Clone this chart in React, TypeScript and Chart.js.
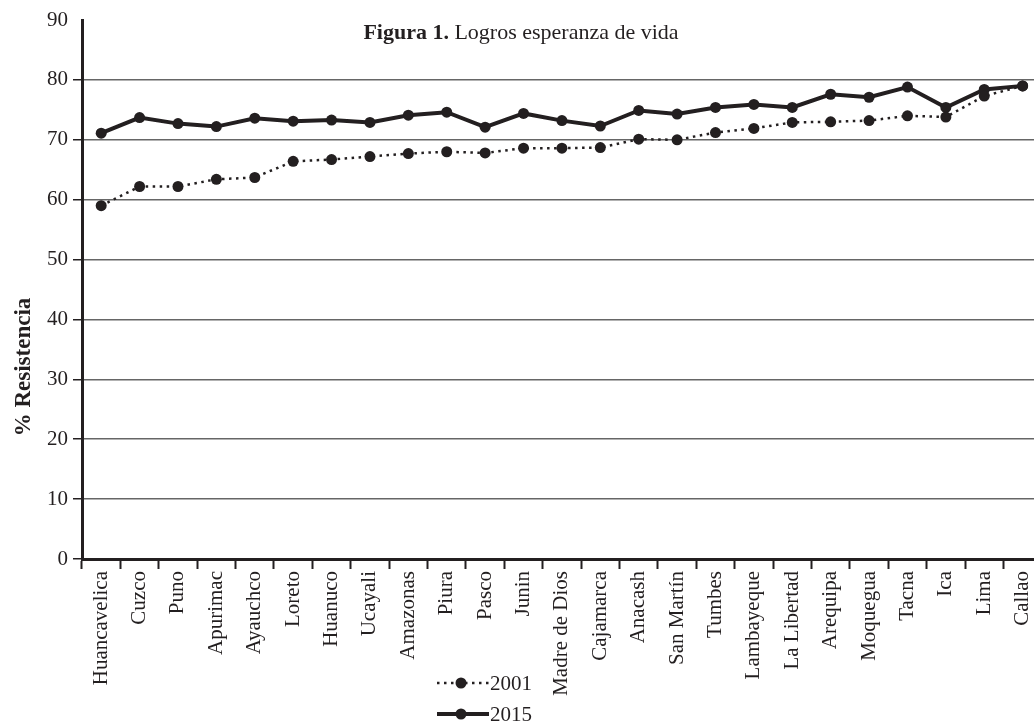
import React, { useEffect, useRef } from "react";
import { Chart, registerables } from "chart.js";

Chart.register(...registerables);

const categories = [
  "Huancavelica", "Cuzco", "Puno", "Apurimac", "Ayauchco", "Loreto", "Huanuco",
  "Ucayali", "Amazonas", "Piura", "Pasco", "Junin", "Madre de Dios", "Cajamarca",
  "Anacash", "San Martín", "Tumbes", "Lambayeque", "La Libertad", "Arequipa",
  "Moquegua", "Tacna", "Ica", "Lima", "Callao",
];

const values2001 = [
  59.0, 62.2, 62.2, 63.4, 63.7, 66.4, 66.7, 67.2, 67.7, 68.0, 67.8, 68.6, 68.6,
  68.7, 70.1, 70.0, 71.2, 71.9, 72.9, 73.0, 73.2, 74.0, 73.8, 77.3, 79.0,
];

const values2015 = [
  71.1, 73.7, 72.7, 72.2, 73.6, 73.1, 73.3, 72.9, 74.1, 74.6, 72.1, 74.4, 73.2,
  72.3, 74.9, 74.3, 75.4, 75.9, 75.4, 77.6, 77.1, 78.8, 75.4, 78.4, 79.0,
];

const seriesLabels = ["2001", "2015"];
const yTicksMin = 0;
const yTicksMax = 90;
const yTicksStep = 10;

const INK = "#231f20";
const GRID = "#666666";
const FONT = "'Liberation Serif', 'DejaVu Serif', serif";

const textPlugin = {
  id: "textPlugin",
  afterDraw(chart: any) {
    const ctx = chart.ctx as CanvasRenderingContext2D;
    ctx.save();
    // Title
    ctx.fillStyle = INK;
    ctx.textBaseline = "alphabetic";
    const boldPart = "Figura 1.";
    const normalPart = " Logros esperanza de vida";
    ctx.font = `bold 22px ${FONT}`;
    const wb = ctx.measureText(boldPart).width;
    ctx.font = `22px ${FONT}`;
    const wn = ctx.measureText(normalPart).width;
    const startX = 521 - (wb + wn) / 2;
    ctx.font = `bold 22px ${FONT}`;
    ctx.textAlign = "left";
    ctx.fillText(boldPart, startX, 39);
    ctx.font = `22px ${FONT}`;
    ctx.fillText(normalPart, startX + wb, 39);

    // Y axis title
    ctx.save();
    ctx.translate(30, 367);
    ctx.rotate(-Math.PI / 2);
    ctx.font = `bold 23px ${FONT}`;
    ctx.textAlign = "center";
    ctx.textBaseline = "alphabetic";
    ctx.fillText("% Resistencia", 0, 0);
    ctx.restore();

    // Legend
    const rows = [
      { label: seriesLabels[0], y: 683, dash: [2.5, 4.5], width: 2.5 },
      { label: seriesLabels[1], y: 714, dash: [], width: 4 },
    ];
    rows.forEach((r) => {
      ctx.save();
      ctx.strokeStyle = INK;
      ctx.lineWidth = r.width;
      ctx.setLineDash(r.dash);
      ctx.beginPath();
      ctx.moveTo(437, r.y);
      ctx.lineTo(489, r.y);
      ctx.stroke();
      ctx.setLineDash([]);
      ctx.fillStyle = INK;
      ctx.beginPath();
      ctx.arc(461, r.y, 5.5, 0, Math.PI * 2);
      ctx.fill();
      ctx.font = `21px ${FONT}`;
      ctx.textAlign = "left";
      ctx.textBaseline = "middle";
      ctx.fillText(r.label, 490, r.y + 1);
      ctx.restore();
    });
    ctx.restore();
  },
};

export default function App() {
  const canvasRef = useRef<HTMLCanvasElement | null>(null);

  useEffect(() => {
    if (!canvasRef.current) return;
    const chart = new Chart(canvasRef.current, {
      type: "line",
      data: {
        labels: categories,
        datasets: [
          {
            label: seriesLabels[0],
            data: values2001,
            borderColor: INK,
            borderWidth: 2.5,
            borderDash: [2.5, 4.5],
            pointRadius: 5.5,
            pointBackgroundColor: INK,
            pointBorderWidth: 0,
            tension: 0,
          },
          {
            label: seriesLabels[1],
            data: values2015,
            borderColor: INK,
            borderWidth: 4,
            pointRadius: 5.5,
            pointBackgroundColor: INK,
            pointBorderWidth: 0,
            tension: 0,
          },
        ],
      },
      options: {
        animation: false,
        responsive: false,
        layout: { padding: { top: 20, left: 0, right: 8, bottom: 0 } },
        plugins: {
          legend: { display: false },
          title: { display: false },
          tooltip: { enabled: false },
        },
        scales: {
          x: {
            offset: true,
            grid: {
              display: true,
              offset: true,
              drawOnChartArea: false,
              drawTicks: true,
              tickLength: 10,
              tickColor: INK,
              tickWidth: 2,
            },
            border: { display: true, color: INK, width: 3 },
            ticks: {
              autoSkip: false,
              minRotation: 90,
              maxRotation: 90,
              padding: 2,
              color: INK,
              font: { family: FONT, size: 21 },
            },
            afterFit: (scale: any) => {
              scale.height = 167;
            },
          },
          y: {
            min: yTicksMin,
            max: yTicksMax,
            ticks: {
              stepSize: yTicksStep,
              padding: 5,
              color: INK,
              font: { family: FONT, size: 21 },
            },
            grid: {
              color: (c: any) => (c.tick && c.tick.value === yTicksMax ? "rgba(0,0,0,0)" : GRID),
              tickColor: (c: any) => (c.tick && c.tick.value === yTicksMax ? "rgba(0,0,0,0)" : INK),
              lineWidth: 1.5,
              tickLength: 9,
            },
            border: { display: true, color: INK, width: 3 },
            afterFit: (scale: any) => {
              scale.width = 82;
            },
          },
        },
      },
      plugins: [textPlugin],
    });
    return () => chart.destroy();
  }, []);

  return (
    <div
      style={{
        position: "fixed",
        left: 0,
        top: 0,
        width: 1034,
        height: 726,
        overflow: "hidden",
        background: "#fff",
      }}
    >
      <canvas
        ref={canvasRef}
        width={1050}
        height={726}
        style={{ display: "block", width: 1050, height: 726 }}
      />
    </div>
  );
}
